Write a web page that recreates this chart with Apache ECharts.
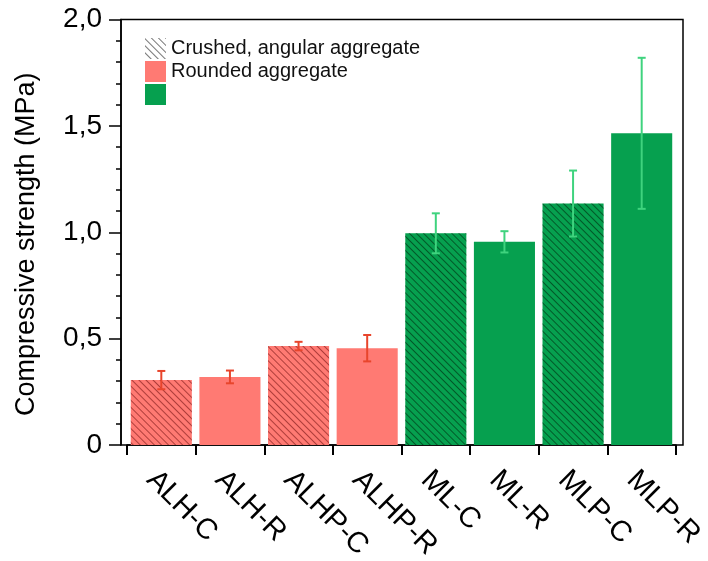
<!DOCTYPE html>
<html>
<head>
<meta charset="utf-8">
<script src="https://cdn.jsdelivr.net/npm/echarts@6/dist/echarts.min.js"></script>
<style>html,body{margin:0;padding:0;background:#fff}#c{width:708px;height:561px}</style>
</head>
<body>
<div id="c"></div>
<script>
const categories = ['ALH-C','ALH-R','ALHP-C','ALHP-R','ML-C','ML-R','MLP-C','MLP-R'];
const strength = [0.305, 0.32, 0.465, 0.455, 0.995, 0.955, 1.135, 1.465];
const errors = [0.043, 0.03, 0.02, 0.062, 0.094, 0.05, 0.155, 0.355];
const crushed = [true, false, true, false, true, false, true, false];
const group = ['AL','AL','AL','AL','ML','ML','ML','ML'];
const yTicks = ['0','0,5','1,0','1,5','2,0'];
const legendNames = ['Crushed, angular aggregate','Rounded aggregate',' '];

const barColor = {AL:'#FF7A73', ML:'#06A04F'};
const hatchColor = {AL:'rgba(120,20,20,0.6)', ML:'rgba(0,50,20,0.65)'};
const errColor = {AL:'#E8452C', ML:'#3FD37E'};
const FONT = 'Liberation Sans, Arial, Helvetica, sans-serif';

function hatch(c){
  return {symbol:'rect', dashArrayX:[1,0], dashArrayY:[1,3.5], rotation:Math.PI/4, color:c, symbolSize:1};
}

const crushedData = categories.map((c,i)=> crushed[i] ? {value:strength[i], itemStyle:{color:barColor[group[i]], decal:hatch(hatchColor[group[i]])}} : '-');
const roundData = categories.map((c,i)=> !crushed[i] ? {value:strength[i], itemStyle:{color:barColor[group[i]]}} : '-');
const errData = categories.map((c,i)=>[i, strength[i]-errors[i], strength[i]+errors[i]]);

const chart = echarts.init(document.getElementById('c'), null, {renderer:'canvas'});
chart.setOption({
  animation:false,
  backgroundColor:'#fff',
  grid:[
    {left:127, right:32, top:19.5, bottom:116, containLabel:false, outerBoundsMode:'none'},
    {left:121, right:25, top:19.5, bottom:116, show:true, borderColor:'#000', borderWidth:1.5, backgroundColor:'transparent', outerBoundsMode:'none'}
  ],
  legend:{
    data:legendNames,
    orient:'vertical', left:140, top:33, itemGap:2,
    itemWidth:21, itemHeight:21, icon:'rect',
    textStyle:{fontFamily:FONT, fontSize:20, color:'#111'},
    selectedMode:false
  },
  xAxis:[
    {type:'category', data:categories, gridIndex:0,
     axisLine:{show:true, lineStyle:{color:'#000', width:1.5}},
     axisTick:{show:true, inside:false, length:10, lineStyle:{color:'#000', width:2}},
     axisLabel:{rotate:-45, fontFamily:FONT, fontSize:29, color:'#000', margin:20, interval:0, verticalAlign:'top'}},
    {type:'value', gridIndex:1, show:false, min:0, max:1}
  ],
  yAxis:[
    {type:'value', gridIndex:0, min:0, max:2, interval:0.5, offset:6,
     name:'Compressive strength (MPa)', nameLocation:'middle', nameGap:81,
     nameTextStyle:{fontFamily:FONT, fontSize:27, color:'#000', padding:[0,24,0,0]},
     axisLine:{show:true, lineStyle:{color:'#000', width:1.5}},
     axisTick:{show:true, length:12, lineStyle:{color:'#000', width:1.5}},
     minorTick:{show:true, splitNumber:5, length:5, lineStyle:{color:'#000', width:1.5}},
     splitLine:{show:false},
     axisLabel:{fontFamily:FONT, fontSize:28, color:'#000', margin:19,
       formatter:(v)=> yTicks[Math.round(v/0.5)]}},
    {type:'value', gridIndex:1, show:false, min:0, max:1}
  ],
  series:[
    {name:legendNames[0], type:'bar', stack:'s', data:crushedData, barCategoryGap:'11%',
     itemStyle:{color:'#fff', decal:hatch('rgba(60,60,60,0.7)')}},
    {name:legendNames[1], type:'bar', stack:'s', data:roundData, barCategoryGap:'11%',
     itemStyle:{color:barColor.AL}},
    {name:legendNames[2], type:'bar', stack:'s', data:[], itemStyle:{color:barColor.ML}},
    {type:'custom', name:'err', data:errData, z:10,
     renderItem:function(params, api){
       const i = api.value(0);
       const lo = api.coord([i, api.value(1)]);
       const hi = api.coord([i, api.value(2)]);
       const col = errColor[group[i]];
       const w = 4;
       const st = {stroke:col, lineWidth:2};
       return {type:'group', children:[
         {type:'line', shape:{x1:lo[0], y1:lo[1], x2:hi[0], y2:hi[1]}, style:st},
         {type:'line', shape:{x1:lo[0]-w, y1:lo[1], x2:lo[0]+w, y2:lo[1]}, style:st},
         {type:'line', shape:{x1:hi[0]-w, y1:hi[1], x2:hi[0]+w, y2:hi[1]}, style:st}
       ]};
     }}
  ]
});
</script>
</body>
</html>
